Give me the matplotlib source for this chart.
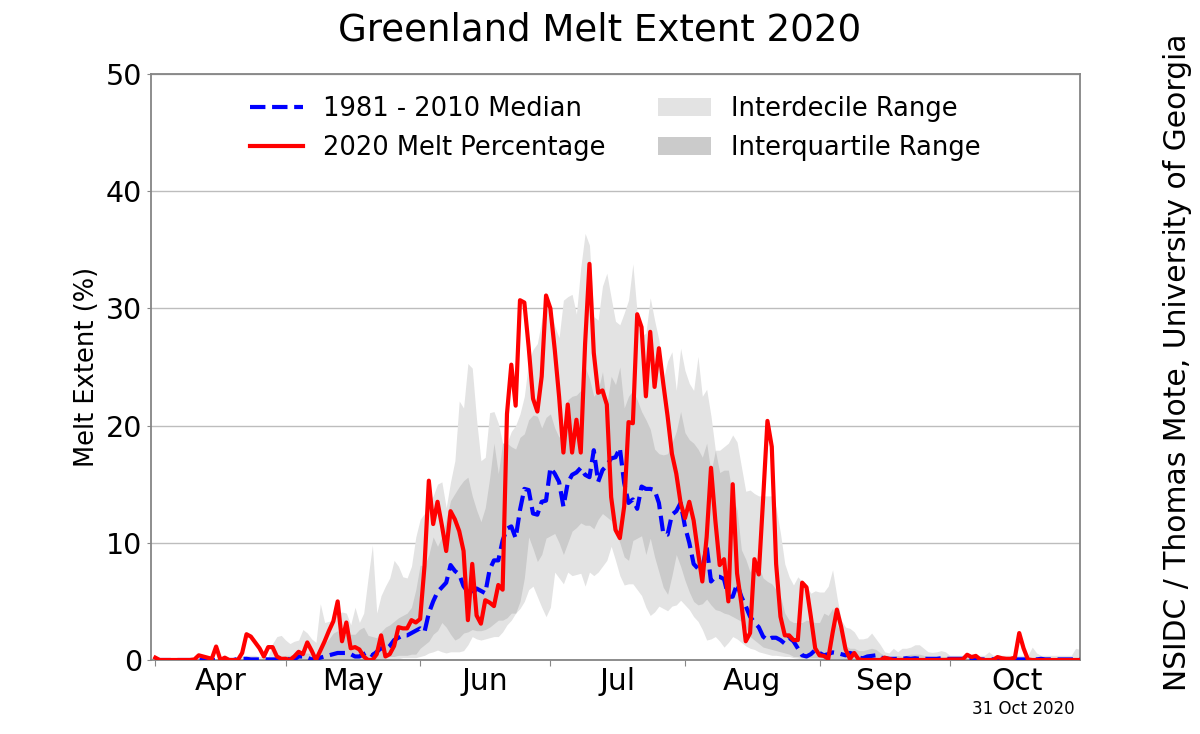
import numpy as np
import matplotlib
matplotlib.use('Agg')
import matplotlib.pyplot as plt

# daily values, one list per month
melt_apr = [0.2,0,0,0,0,0,0,0,0,0.05,0.4,0.3,0.2,0.1,1.15,0,0.2,0,0,0,0.6,2.2,2.0,1.5,1.0,0.3,1.1,1.1,0.3,0.1]
melt_may = [0.1,0,0.3,0.7,0.5,1.5,0.8,0,0.8,1.6,2.5,3.3,5.0,1.6,3.2,1.0,1.1,0.9,0.3,0,0,0.5,2.1,0.3,0.5,1.2,2.8,2.7,2.7,3.4,3.2]
melt_jun = [3.5,8,15.3,11.6,13.5,11.5,9.3,12.7,12,11,9.3,3.4,8.2,3.8,3.1,5.1,4.9,4.6,6.4,6.0,21,25.2,21.7,30.7,30.5,26.7,22.3,21.2,24.2,31.1]
melt_jul = [30,26.5,22.5,17.7,21.8,17.7,20.5,17.7,27,33.8,26.2,22.8,23,21.8,13.9,11.1,10.4,13.1,20.3,20.2,29.5,28.4,22.5,28,23.3,26.6,23.6,20.8,17.6,15.9,13.4]
melt_aug = [12.1,13.5,11.9,9.2,6.7,10.5,16.4,11.9,8.1,8.6,5,15,7.4,4.8,1.6,2.3,8.6,7.3,13.7,20.4,18.2,8.2,3.7,2.1,2.1,1.7,1.7,6.6,6.2,3.7,1]
melt_sep = [0.4,0.35,0.1,2.3,4.3,2.8,0.9,0.1,0.6,0.05,0,0,0,0,0,0.2,0.1,0,0,0,0,0,0,0,0,0,0,0,0,0]
melt_oct = [0.05,0.05,0.05,0.05,0.45,0.25,0.35,0.05,0,0,0,0.25,0.15,0.1,0.1,0.2,2.3,1.0,0.05,0,0,0,0,0,0,0,0,0,0,0,0]

med_apr = [0,0,0,0,0,0,0,0,0,0,0,0,0,0,0,0,0,0,0,0.1,0.1,0.1,0.05,0.05,0.05,0.05,0.05,0.05,0.05,0.05]
med_may = [0.1,0.05,0.05,0.3,0.3,0.2,0.05,0.1,0.2,0.3,0.4,0.5,0.6,0.6,0.6,0.5,0.3,0.3,0.5,0.7,0.4,0.7,1.0,0.9,1.2,1.7,1.9,2.1,2.1,2.3,2.5]
med_jun = [2.7,2.4,4,5,5.8,6.2,6.6,8.1,7.6,7.3,6.3,5.8,5.6,6.1,5.9,5.7,7.7,8.5,8.5,10.2,11.2,11.4,10.4,12.8,14.6,14.5,12.5,12.4,13.5,13.6]
med_jul = [16.4,15.9,15.2,13.1,15.1,15.8,16,16.4,15.8,15.6,17.9,15.2,16.2,16.6,17.2,17.3,18.1,15.1,13.4,13.7,12.9,14.8,14.6,14.6,14.5,13.4,10.8,10.7,12.4,12.7,13.4]
med_aug = [11.4,10,8.2,7.8,7.8,9.7,6.7,7.1,7.1,6.9,5.4,5.4,6.5,5.4,4.6,3.7,3.2,2.8,2,1.7,1.9,1.9,1.7,1.4,1.9,1.6,1,0.4,0.3,0.5,0.85]
med_sep = [0.6,0.4,0.5,0.65,0.6,0.5,0.4,0.6,0.5,0.2,0.15,0.3,0.35,0.4,0.2,0.15,0.1,0.1,0.1,0.1,0.15,0.1,0.15,0.1,0.1,0.1,0.1,0.1,0.15,0.1]
med_oct = [0.1,0.1,0.1,0.1,0.05,0.05,0.05,0.05,0.05,0.1,0.05,0.05,0.05,0.05,0.05,0.05,0.05,0.05,0.05,0.1,0.05,0.1,0.05,0.05,0.05,0.05,0.05,0.05,0.05,0.05,0.05]

p90_apr = [0,0,0,0,0,0,0,0,0,0,0,0,0,0,0,0,0.1,0.1,0.2,0.2,0.3,0.4,0.4,0.4,0.3,0.3,0.3,1.4,2.0,2.1]
p90_may = [1.7,1.4,1.6,1.7,2.6,2.3,1.8,1.5,4.8,3.2,3.3,3.4,4,4.1,4,3,4.5,3.2,4,7,9.8,4,5.5,6.3,7,8.5,8,7.1,7,8,10.5]
p90_jun = [12,12.5,13.4,14,15,15.2,13,15.2,17,22.1,21.5,25.3,24.9,20.5,17,17.3,21.1,21.2,20.2,18.5,18.5,19.5,20,21,22.5,25.5,26.5,27,29,30.5]
p90_jul = [30,28.5,27.5,30.7,31,31.2,29.5,33.5,36.4,35.4,29.3,29,31.9,33,30.9,28.9,28.6,29.6,30.7,33.8,29.5,27.6,27.9,30.9,29,27.3,23.9,25.5,26.3,23,26.6]
p90_aug = [24.7,23.6,23,25.9,22.5,23.1,20.8,17.9,17.9,18.2,18.5,19.2,18.6,16.5,14.4,14.5,14.2,14,14,14,14,13,10.8,8.2,7.1,6.4,7.1,6.7,6.3,5.7,5.9]
p90_sep = [5.8,5.8,6.3,7.7,5.4,3.4,2.8,2.7,2.4,1.8,1.8,1.9,2.3,1.8,1.3,0.7,0.6,1,0.7,1,1,1.1,1.3,1.3,1,0.7,0.65,0.7,0.8,0.7]
p90_oct = [0.4,0.4,0.4,0.4,0.4,0.4,0.4,0.4,0.4,0.7,0.4,0.4,0.4,0.4,0.4,0.4,0.4,0.4,0.4,1.1,0.6,0.4,0.4,0.4,0.4,0.4,0.4,0.4,0.4,1.0,0.9]

p75_apr = [0,0,0,0,0,0,0,0,0,0,0,0,0,0,0,0,0,0,0,0,0,0,0,0,0,0,0.1,0.1,0.2,0.3]
p75_may = [0.4,0.4,0.5,0.5,0.6,0.6,0.5,0.3,1,1.4,1.8,2.3,2.5,2.1,2.2,2.2,2.2,2.6,2.8,2.1,2,1.9,2.4,2.8,3,3.3,3.6,3.8,4,4.5,6]
p75_jun = [8.1,8,9,10.5,9.7,10.5,12,13.6,14.2,14.8,15.3,15.6,14,12.8,11.8,13,15.5,18.5,15.9,18.5,18.5,18.2,18,19,19.3,20.5,20.9,20.8,19.8,20.7]
p75_jul = [21,19.8,19,20,22.2,22.5,22.6,23,25,24,22.5,23,24.6,21.8,24.2,23.5,25,21.5,22.5,23,22.2,21.2,20.5,19.7,18,17.6,17.5,17.6,18.5,19.5,21.2]
p75_aug = [19.4,18.8,18.5,18,17.3,18.5,16,17.9,16,16.2,16.2,14,12.8,9.4,8.6,7.5,8.5,8,7,6.7,6.5,6,5.4,4,3.4,3.2,3.2,3.2,3.4,3.3,3.2]
p75_sep = [3.2,4,3.8,4.4,3,2.3,1.2,1,1,0.8,0.8,0.9,1,0.9,0.6,0.4,0.3,0.3,0.4,0.3,0.4,0.5,0.5,0.5,0.4,0.3,0.3,0.3,0.3,0.3]
p75_oct = [0.2,0.2,0.2,0.2,0.2,0.2,0.2,0.2,0.2,0.2,0.2,0.2,0.2,0.2,0.2,0.2,0.2,0.2,0.2,0.2,0.2,0.2,0.2,0.2,0.2,0.2,0.2,0.2,0.2,0.2,0.2]

p25_apr = [0]*30
p25_may = [0,0,0,0,0,0,0,0,0,0,0,0,0,0,0,0,0,0,0,0,0,0,0.1,0.2,0.3,0.3,0.4,0.4,0.4,0.5,0.5]
p25_jun = [1,1.3,1.6,2.2,2.5,3.2,2.8,2.2,1.7,1.9,2.3,2.4,2.6,2.5,2.5,2.6,2.8,3.1,3.4,3.4,3.6,4,4,5,7,10.5,9.5,8.4,9,10.4]
p25_jul = [10.6,10.8,10,9,10,11,11.3,11.7,11.5,11.5,11.2,12,12.5,12.2,11.9,11,10,8.8,8.5,10.2,10.4,10.6,9,10.4,8.8,7.5,6.2,5.6,7.2,9,8]
p25_aug = [6.8,5.8,5,4.7,4.8,5.2,4.7,4.3,4.2,4,3.9,3.7,3.5,3.3,2.8,2,1.7,1.4,1.1,1,0.9,0.8,0.7,0.6,0.5,0.3,0.3,0.2,0.2,0.2,0.2]
p25_sep = [0.2,0.1,0.1,0.1,0.1,0,0,0,0,0,0,0,0,0,0,0,0,0,0,0,0,0,0,0,0,0,0,0,0,0]
p25_oct = [0]*31

p10_apr = [0]*30
p10_may = [0,0,0,0,0,0,0,0,0,0,0,0,0,0,0,0,0,0,0,0,0,0,0,0,0,0,0.1,0.2,0.2,0.2,0.2]
p10_jun = [0.3,0.4,0.6,0.7,0.85,0.7,0.6,0.7,0.7,0.7,0.8,1.3,2,1.8,1.7,1.8,1.9,2,2,2.4,3,3.4,4,4.4,5,6,6.3,5.4,4.5,3.7]
p10_jul = [4.5,7.5,7,6.5,7.5,7.2,7.3,7.4,6.3,7.5,7.2,7.5,8,8.5,9.7,8.5,7.2,6.4,6.5,6.5,6,5.5,4.5,3.8,4.1,4.6,4.4,4.2,4.6,4.7,5.1]
p10_aug = [4.7,4.3,3.7,3.3,2.6,1.7,1.8,2,1.6,1.1,1.5,2,1.8,1.5,1.2,1,0.9,0.7,0.6,0.5,0.4,0.4,0.35,0.3,0.3,0.2,0.15,0.1,0.1,0.1,0.1]
p10_sep = [0]*30
p10_oct = [0]*31

month_names = ['Apr', 'May', 'Jun', 'Jul', 'Aug', 'Sep', 'Oct']
month_lengths = [30, 31, 30, 31, 31, 30, 31]

melt = melt_apr + melt_may + melt_jun + melt_jul + melt_aug + melt_sep + melt_oct
median = med_apr + med_may + med_jun + med_jul + med_aug + med_sep + med_oct
p90 = p90_apr + p90_may + p90_jun + p90_jul + p90_aug + p90_sep + p90_oct
p75 = p75_apr + p75_may + p75_jun + p75_jul + p75_aug + p75_sep + p75_oct
p25 = p25_apr + p25_may + p25_jun + p25_jul + p25_aug + p25_sep + p25_oct
p10 = p10_apr + p10_may + p10_jun + p10_jul + p10_aug + p10_sep + p10_oct

days = np.arange(len(melt))
month_starts = np.cumsum([0] + month_lengths[:-1])
month_mids = month_starts + np.array(month_lengths) / 2

fig = plt.figure(figsize=(12, 7.34), dpi=100)
ax = fig.add_axes([151/1200, 1 - 660/734, 929/1200, 586/734])

ax.fill_between(days, p10, p90, color='#e3e3e3', lw=0, label='Interdecile Range', zorder=2)
ax.fill_between(days, p25, p75, color='#cbcbcb', lw=0, label='Interquartile Range', zorder=2)
ax.plot(days, median, color='blue', ls='--', lw=3, label='1981 - 2010 Median', zorder=3)
ax.plot(days, melt, color='red', lw=3, label='2020 Melt Percentage', zorder=4)

ax.set_xlim(-1, 213)
ax.set_ylim(0, 50)
ax.set_yticks([0, 10, 20, 30, 40, 50])
ax.yaxis.grid(True, color='#bdbdbd', lw=1)
ax.set_axisbelow(True)
ax.set_xticks(month_starts)
ax.set_xticklabels([])
ax.set_xticks(month_mids, minor=True)
ax.set_xticklabels(month_names, minor=True)
ax.tick_params(axis='x', which='minor', length=0, labelsize=21.5, pad=5)
ax.tick_params(axis='x', which='major', length=4, color='#888888')
ax.tick_params(axis='y', labelsize=20.5, length=3, color='#888888', pad=3.5)
for s in ax.spines.values():
    s.set_color('#858585')
    s.set_linewidth(1.3)

ax.set_ylabel('Melt Extent (%)', fontsize=18.5)
ax.yaxis.set_label_coords((100 - 151) / 929, 0.5)
fig.text(600/1200, 1 - 30/734, 'Greenland Melt Extent 2020', fontsize=26.75, ha='center', va='center')
fig.text(1178/1200, 1 - 362/734, 'NSIDC / Thomas Mote, University of Georgia', fontsize=21.4,
         rotation=90, ha='center', va='center')
fig.text(1075/1200, 1 - 709/734, '31 Oct 2020', fontsize=12, ha='right', va='center')

handles, labels = ax.get_legend_handles_labels()
order = [2, 3, 0, 1]
ax.legend([handles[i] for i in order], [labels[i] for i in order], ncol=2, frameon=False,
          fontsize=18.5, loc='upper center', bbox_to_anchor=(0.5, 1.002), columnspacing=2.03,
          handlelength=2.05, handletextpad=0.8, labelspacing=0.5)

fig.savefig('out.png', dpi=100)
